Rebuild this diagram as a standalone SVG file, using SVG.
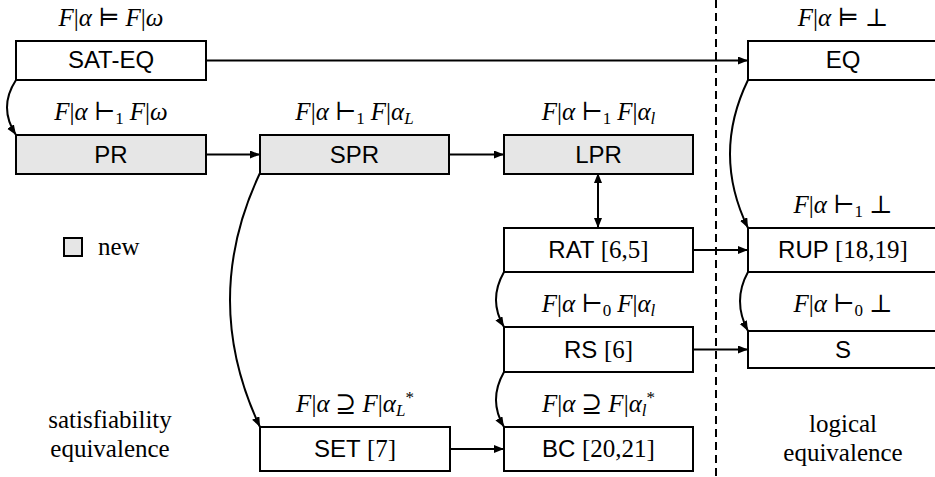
<svg xmlns="http://www.w3.org/2000/svg" width="935" height="477" viewBox="0 0 935 477">
<defs>
<marker id="ah" markerUnits="userSpaceOnUse" markerWidth="12" markerHeight="10" refX="10" refY="4" orient="auto-start-reverse" viewBox="0 0 12 10">
<path d="M0,0 L10,4 L0,8 Z" fill="#000"/>
</marker>
<style>
.box{fill:#fff;stroke:#000;stroke-width:2}
.new{fill:#e6e6e6;stroke:#000;stroke-width:2}
.lbl{font-family:"Liberation Sans","DejaVu Sans",sans-serif;font-size:24px;text-anchor:middle;fill:#000}
.ref{font-family:"Liberation Serif","DejaVu Serif",serif;font-size:25px}
.math{font-family:"Liberation Serif","DejaVu Serif",serif;font-size:25px;text-anchor:middle;fill:#000}
.it{font-style:italic}
.sb{font-size:17px}
.ann{font-family:"Liberation Serif","DejaVu Serif",serif;font-size:25px;text-anchor:middle;fill:#000}
.con{fill:none;stroke:#000;stroke-width:2;marker-end:url(#ah)}
</style>
</defs>
<rect width="935" height="477" fill="#fff"/>
<line x1="716" y1="0" x2="716" y2="477" stroke="#000" stroke-width="2" stroke-dasharray="8,5"/>
<g id="connectors">
<path class="con" d="M206,60.5 L748,60.5"/>
<path class="con" d="M16,80 Q-2,107.5 16,135"/>
<path class="con" d="M206,154.5 L260,154.5"/>
<path class="con" d="M449,154.5 L504,154.5"/>
<path class="con" d="M598,173 L598,228" style="marker-start:url(#ah)"/>
<path class="con" d="M260,173 Q200,300 260,427"/>
<path class="con" d="M693,250 L748,250"/>
<path class="con" d="M504,272 Q488,300 504,327"/>
<path class="con" d="M693,349.5 L748,349.5"/>
<path class="con" d="M504,372 Q488,400 504,427"/>
<path class="con" d="M450,449 L504,449"/>
<path class="con" d="M748,80 Q712,154 748,228"/>
<path class="con" d="M748,272 Q732,301 748,331"/>
</g>
<g id="sateq">
<text class="math" x="111" y="26"><tspan class="it">F</tspan>|<tspan class="it">α</tspan><tspan dx="6">⊨</tspan><tspan class="it" dx="6">F</tspan>|<tspan class="it">ω</tspan></text>
<rect class="box" x="16" y="41" width="190" height="39"/>
<text class="lbl" x="111" y="68">SAT-EQ</text>
</g>
<g id="pr">
<text class="math" x="111" y="120"><tspan class="it">F</tspan>|<tspan class="it">α</tspan><tspan dx="6">⊢</tspan><tspan class="sb" dy="4">1</tspan><tspan class="it" dx="6" dy="-4">F</tspan>|<tspan class="it">ω</tspan></text>
<rect class="new" x="16" y="135" width="190" height="39"/>
<text class="lbl" x="111" y="163">PR</text>
</g>
<g id="spr">
<text class="math" x="354.5" y="120"><tspan class="it">F</tspan>|<tspan class="it">α</tspan><tspan dx="6">⊢</tspan><tspan class="sb" dy="4">1</tspan><tspan class="it" dx="6" dy="-4">F</tspan>|<tspan class="it">α</tspan><tspan class="it sb" dy="4">L</tspan></text>
<rect class="new" x="260" y="135" width="189" height="39"/>
<text class="lbl" x="354.5" y="163">SPR</text>
</g>
<g id="lpr">
<text class="math" x="598.5" y="120"><tspan class="it">F</tspan>|<tspan class="it">α</tspan><tspan dx="6">⊢</tspan><tspan class="sb" dy="4">1</tspan><tspan class="it" dx="6" dy="-4">F</tspan>|<tspan class="it">α</tspan><tspan class="it sb" dy="4">l</tspan></text>
<rect class="new" x="504" y="135" width="189" height="39"/>
<text class="lbl" x="598.5" y="163">LPR</text>
</g>
<g id="eq">
<text class="math" x="843" y="26"><tspan class="it">F</tspan>|<tspan class="it">α</tspan><tspan dx="6">⊨</tspan><tspan dx="6">⊥</tspan></text>
<rect class="box" x="748" y="41" width="190" height="39"/>
<text class="lbl" x="843" y="68">EQ</text>
</g>
<g id="legend">
<rect class="new" x="64" y="238" width="18" height="18"/>
<text class="ann" x="98" y="255" style="text-anchor:start">new</text>
</g>
<g id="rat">
<rect class="box" x="504" y="228" width="189" height="44"/>
<text class="lbl" x="598.5" y="258">RAT <tspan class="ref">[6,5]</tspan></text>
</g>
<g id="rup">
<text class="math" x="843" y="213"><tspan class="it">F</tspan>|<tspan class="it">α</tspan><tspan dx="6">⊢</tspan><tspan class="sb" dy="4">1</tspan><tspan dx="6" dy="-4">⊥</tspan></text>
<rect class="box" x="748" y="228" width="190" height="44"/>
<text class="lbl" x="843" y="258">RUP <tspan class="ref">[18,19]</tspan></text>
</g>
<g id="rs">
<text class="math" x="598.5" y="312"><tspan class="it">F</tspan>|<tspan class="it">α</tspan><tspan dx="6">⊢</tspan><tspan class="sb" dy="4">0</tspan><tspan class="it" dx="6" dy="-4">F</tspan>|<tspan class="it">α</tspan><tspan class="it sb" dy="4">l</tspan></text>
<rect class="box" x="504" y="327" width="189" height="45"/>
<text class="lbl" x="598.5" y="358">RS <tspan class="ref">[6]</tspan></text>
</g>
<g id="s">
<text class="math" x="843" y="312"><tspan class="it">F</tspan>|<tspan class="it">α</tspan><tspan dx="6">⊢</tspan><tspan class="sb" dy="4">0</tspan><tspan dx="6" dy="-4">⊥</tspan></text>
<rect class="box" x="748" y="331" width="190" height="37"/>
<text class="lbl" x="843" y="358">S</text>
</g>
<g id="set">
<text class="math" x="355" y="412"><tspan class="it">F</tspan>|<tspan class="it">α</tspan><tspan dx="6">⊇</tspan><tspan class="it" dx="6">F</tspan>|<tspan class="it">α</tspan><tspan class="it sb" dy="4">L</tspan><tspan class="sb" dy="-13">*</tspan></text>
<rect class="box" x="260" y="427" width="190" height="44"/>
<text class="lbl" x="355" y="457">SET <tspan class="ref">[7]</tspan></text>
</g>
<g id="bc">
<text class="math" x="598.5" y="412"><tspan class="it">F</tspan>|<tspan class="it">α</tspan><tspan dx="6">⊇</tspan><tspan class="it" dx="6">F</tspan>|<tspan class="it">α</tspan><tspan class="it sb" dy="4">l</tspan><tspan class="sb" dy="-13">*</tspan></text>
<rect class="box" x="504" y="427" width="189" height="44"/>
<text class="lbl" x="598.5" y="457">BC <tspan class="ref">[20,21]</tspan></text>
</g>
<g id="notes">
<text class="ann" x="110" y="428">satisfiability</text>
<text class="ann" x="110" y="457">equivalence</text>
<text class="ann" x="843" y="432">logical</text>
<text class="ann" x="843" y="461">equivalence</text>
</g>
</svg>
